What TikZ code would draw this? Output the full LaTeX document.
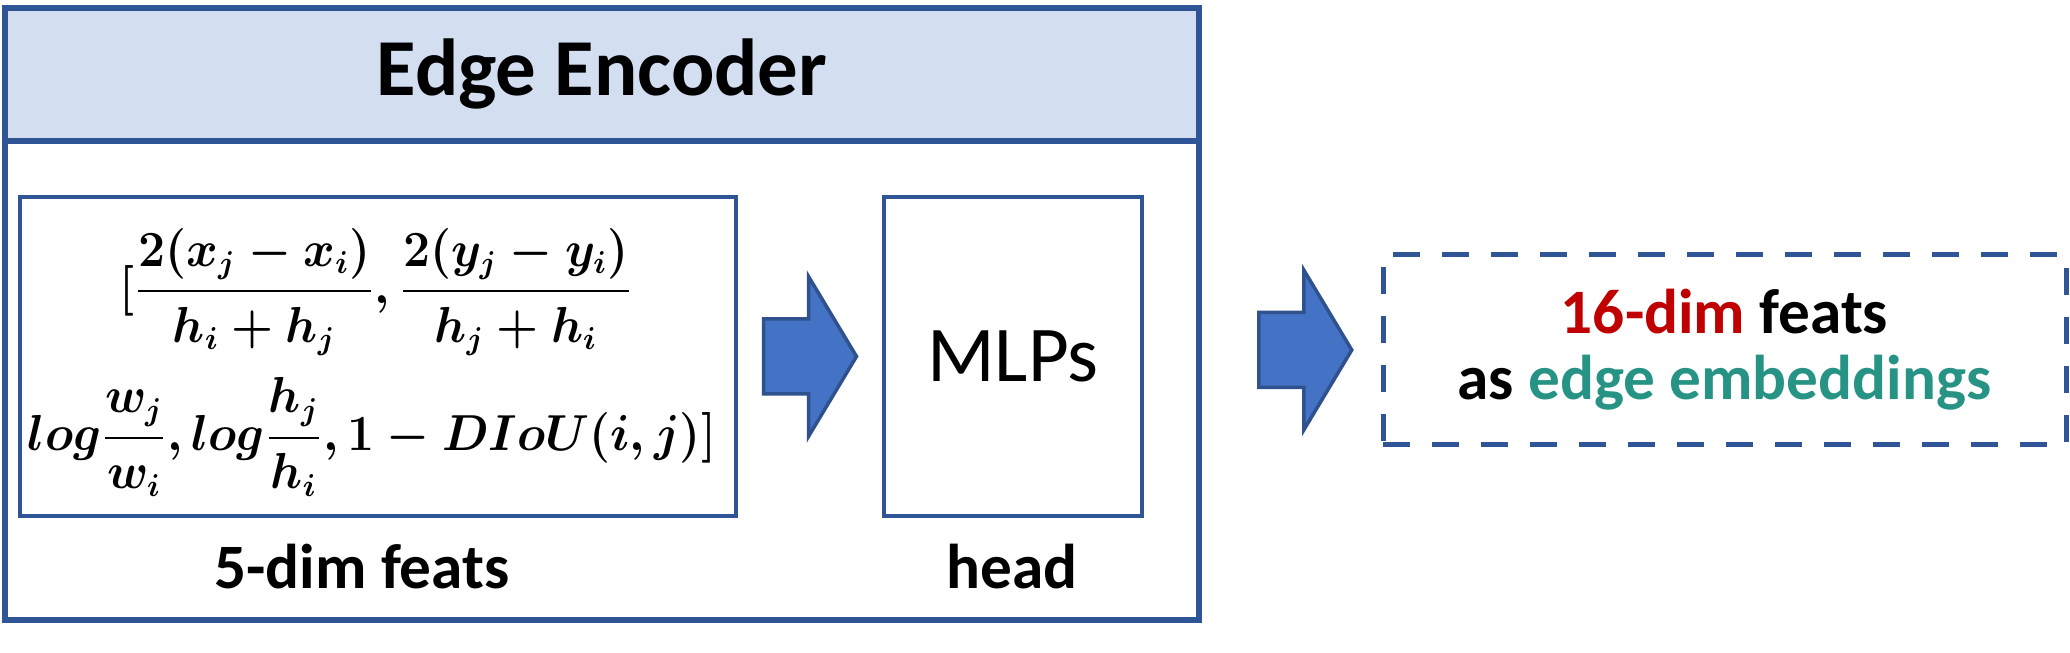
\documentclass[tikz,border=0pt]{standalone}
\usepackage{fontspec}
\setmainfont{Carlito}
\usepackage{amsmath}
\usetikzlibrary{positioning,calc}

\definecolor{encblue}{HTML}{2F5597}
\definecolor{headfill}{HTML}{D3DEF1}
\definecolor{arrowfill}{HTML}{4472C4}
\definecolor{arrowline}{HTML}{2F528F}
\definecolor{dimred}{HTML}{C00000}
\definecolor{embteal}{HTML}{279384}

% block arrow centred in the gap between two nodes, at the height of the second
\newcommand\DrawBlockArrow[3][0]{%
  \path ($(#2.east)!0.5!(#3.west)$) coordinate (mid);
  \path (mid |- #3.west) ++(#1,0) coordinate (arrowc);
  \draw[block arrow] ($(arrowc)+(-0.465,0.375)$) -- ++(0.45,0) -- ++(0,0.425)
    -- ($(arrowc)+(0.465,0)$) -- ++(-0.48,-0.8) -- ++(0,0.425) -- ++(-0.45,0) -- cycle;
}

\tikzset{
  block arrow/.style={fill=arrowfill,draw=arrowline,line width=0.035cm,line join=miter},
  frame box/.style={draw=encblue,line width=0.06cm,rectangle,inner sep=0pt},
  inner box/.style={draw=encblue,line width=0.04cm,rectangle,inner sep=0pt},
  out box/.style={draw=encblue,line width=0.05cm,dash pattern=on 0.27cm off 0.22cm,
    rectangle,inner sep=0pt,align=center},
  label text/.style={font=\fontsize{18}{19}\selectfont\bfseries,inner sep=0pt,anchor=base},
  eq text/.style={font=\fontsize{13.5}{16}\selectfont\boldmath,inner sep=0pt,
    xscale=0.95,transform shape}
}

\begin{document}
\begin{tikzpicture}
	\useasboundingbox (0,0) rectangle (20.7,6.53);

	%% encoder frame with title band
	\node[frame box,fill=headfill,minimum width=11.94cm,minimum height=1.33cm,
	  font=\fontsize{23}{27}\selectfont\bfseries] (title) at (6.02,5.785) {Edge Encoder};
	\node[frame box,minimum width=11.94cm,minimum height=6.12cm] (enc) at (6.02,3.39) {};

	%% input features and head
	\node[inner box,minimum width=7.16cm,minimum height=3.19cm] (feat) at (3.78,2.965) {};
	\node[inner box,minimum width=2.58cm,minimum height=3.19cm,
	  font=\fontsize{22.5}{27}\selectfont] (mlp) at (10.13,2.965) {MLPs};

	% the 5 features
	\node[eq text] (eqone) at (3.76,3.61)
	  {$[\dfrac{2(x_j-x_i)}{h_i+h_j},\dfrac{2(y_j-y_i)}{h_j+h_i}$};
	\node[eq text] (eqtwo) at (3.72,2.16)
	  {$log\dfrac{w_j}{w_i},log\dfrac{h_j}{h_i},1-DIoU(i,j)]$};

	\node[label text] (featlbl) at (3.62,0.64) {5-dim feats};
	\node[label text] (mlplbl) at (10.12,0.64) {head};

	%% output
	\node[out box,minimum width=6.83cm,minimum height=1.9cm,
	  font=\fontsize{18}{18.8}\selectfont\bfseries] (out) at (17.245,3.03)
	  {\textcolor{dimred}{16-dim} feats\\as \textcolor{embteal}{edge embeddings}};

	%% arrows
	\DrawBlockArrow{feat}{mlp}
	\DrawBlockArrow[0.14]{enc}{out}
\end{tikzpicture}
\end{document}
